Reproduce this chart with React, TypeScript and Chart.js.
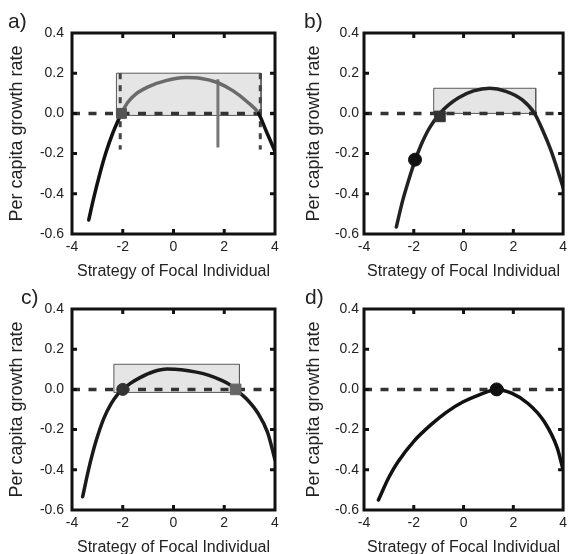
import React, { useEffect, useRef } from "react";
import { Chart, registerables } from "chart.js";

Chart.register(...registerables);

const FONT = '"Liberation Sans", Arial, Helvetica, sans-serif';
const TEXT = "#222";

// ---- shared axes ----
const xTickValues = [-4, -2, 0, 2, 4];
const yTickValues = [0.4, 0.2, 0.0, -0.2, -0.4, -0.6];
const xTitle = "Strategy of Focal Individual";
const yTitle = "Per capita growth rate";
const zeroLineX = [-4, 4];
const zeroLineY = [0, 0];

// ---- panel a ----
const aCurveX = [-3.34, -3.15, -2.9, -2.65, -2.4, -2.2, -2.05, -1.8, -1.5, -1.0, -0.3, 0.5, 1.1, 1.7, 2.35, 2.9, 3.35, 3.66, 3.9, 4.0];
const aCurveY = [-0.53, -0.424, -0.299, -0.19, -0.1, -0.04, 0.0, 0.055, 0.095, 0.132, 0.163, 0.178, 0.174, 0.155, 0.112, 0.058, 0.0, -0.09, -0.16, -0.19];
const aBoxX = [-2.25, 3.45];
const aBoxY = [-0.01, 0.2];
const aDashLeftX = [-2.1, -2.1];
const aDashRightX = [3.42, 3.42];
const aDashY = [0.2, -0.18];
const aBarX = [1.75, 1.75];
const aBarY = [0.17, -0.17];
const aSquare = { x: -2.05, y: 0.0 };

// ---- panel b ----
const bCurveX = [-2.7, -2.46, -2.2, -1.95, -1.7, -1.45, -1.2, -0.95, -0.6, -0.2, 0.4, 1.05, 1.7, 2.35, 2.85, 3.2, 3.5, 3.8, 4.0];
const bCurveY = [-0.565, -0.44, -0.33, -0.235, -0.155, -0.09, -0.04, 0.0, 0.042, 0.078, 0.112, 0.125, 0.11, 0.068, 0.0, -0.09, -0.18, -0.29, -0.37];
const bBoxX = [-1.2, 2.9];
const bBoxY = [0.0, 0.125];
const bCircle = { x: -1.95, y: -0.23 };
const bSquare = { x: -0.95, y: -0.015 };

// ---- panel c ----
const cCurveX = [-3.58, -3.35, -3.05, -2.75, -2.45, -2.2, -2.0, -1.7, -1.3, -0.8, -0.25, 0.3, 0.9, 1.4, 1.9, 2.2, 2.45, 2.9, 3.31, 3.71, 4.0];
const cCurveY = [-0.534, -0.4, -0.256, -0.145, -0.07, -0.025, 0.0, 0.03, 0.06, 0.088, 0.101, 0.098, 0.086, 0.07, 0.045, 0.025, 0.0, -0.05, -0.115, -0.215, -0.35];
const cBoxX = [-2.35, 2.6];
const cBoxY = [-0.015, 0.125];
const cCircle = { x: -2.0, y: 0.0 };
const cSquare = { x: 2.45, y: 0.0 };

// ---- panel d ----
const dCurveX = [-3.42, -3.0, -2.64, -1.99, -1.33, -0.68, -0.03, 0.63, 1.33, 1.93, 2.59, 3.24, 3.76, 4.0];
const dCurveY = [-0.55, -0.437, -0.361, -0.257, -0.178, -0.113, -0.063, -0.027, 0.0, -0.019, -0.07, -0.16, -0.29, -0.4];
const dCircle = { x: 1.33, y: 0.0 };

type Pt = { x: number; y: number };
const pts = (xs: number[], ys: number[]): Pt[] => xs.map((x, i) => ({ x, y: ys[i] }));

const line = (data: Pt[], color: string, width: number, extra: any = {}) => ({
  data,
  showLine: true,
  borderColor: color,
  borderWidth: width,
  pointRadius: 0,
  fill: false,
  tension: 0,
  ...extra,
});

const boxFill = (bx: number[], by: number[]) =>
  line(pts(bx, [by[1], by[1]]), "rgba(0,0,0,0)", 0, {
    fill: { value: by[0] },
    backgroundColor: "#e5e5e5",
  });
const boxOutline = (bx: number[], by: number[]) =>
  line(pts([bx[0], bx[0], bx[1], bx[1], bx[0]], [by[0], by[1], by[1], by[0], by[0]]), "#5a5a5a", 1);
const zeroLine = () => line(pts(zeroLineX, zeroLineY), "#333", 3.5, { borderDash: [8, 8.5] });
const curve = (xs: number[], ys: number[], color: string, extra: any = {}) =>
  line(pts(xs, ys), color, 3.5, { cubicInterpolationMode: "monotone", borderCapStyle: "round", borderJoinStyle: "round", ...extra });
const marker = (p: Pt, style: string, color: string, r: number) => ({
  data: [p],
  showLine: false,
  pointStyle: style,
  pointRadius: r,
  pointBackgroundColor: color,
  pointBorderColor: color,
  pointBorderWidth: 1,
});

const withOrder = (list: any[]) => list.map((d, i) => ({ ...d, order: list.length - i }));

type PanelCfg = {
  label: string;
  labelX: number;
  left: number;
  top: number;
  axisWidth: number;
  padRight: number;
  yTitlePad: number;
  yTickPad: number;
  datasets: any[];
};

const panels: PanelCfg[] = [
  {
    label: "a)",
    labelX: 8,
    left: 0,
    top: 0,
    axisWidth: 72,
    padRight: 11,
    yTitlePad: 6,
    yTickPad: 8,
    datasets: withOrder([
      boxFill(aBoxX, aBoxY),
      boxOutline(aBoxX, aBoxY),
      zeroLine(),
      line(pts(aDashLeftX, aDashY), "#444", 3, { borderDash: [6, 6] }),
      line(pts(aDashRightX, aDashY), "#444", 3, { borderDash: [6, 6] }),
      line(pts(aBarX, aBarY), "#777", 3),
      curve(aCurveX, aCurveY, "#111", {
        segment: {
          borderColor: (ctx: any) =>
            ctx.p0.parsed.x >= aCurveX[6] - 1e-6 && ctx.p1.parsed.x <= aCurveX[16] + 1e-6 ? "#6a6a6a" : "#111",
        },
      }),
      marker(aSquare, "rect", "#555", 7),
    ]),
  },
  {
    label: "b)",
    labelX: 18,
    left: 286,
    top: 0,
    axisWidth: 78,
    padRight: 4,
    yTitlePad: 17,
    yTickPad: 5,
    datasets: withOrder([
      boxFill(bBoxX, bBoxY),
      boxOutline(bBoxX, bBoxY),
      zeroLine(),
      curve(bCurveX, bCurveY, "#222"),
      marker(bSquare, "rect", "#333", 7.5),
      marker(bCircle, "circle", "#111", 6.5),
    ]),
  },
  {
    label: "c)",
    labelX: 21,
    left: 0,
    top: 276,
    axisWidth: 72,
    padRight: 11,
    yTitlePad: 6,
    yTickPad: 8,
    datasets: withOrder([
      boxFill(cBoxX, cBoxY),
      boxOutline(cBoxX, cBoxY),
      zeroLine(),
      curve(cCurveX, cCurveY, "#1a1a1a"),
      marker(cCircle, "circle", "#333", 6),
      marker(cSquare, "rect", "#666", 7.5),
    ]),
  },
  {
    label: "d)",
    labelX: 19,
    left: 286,
    top: 276,
    axisWidth: 78,
    padRight: 4,
    yTitlePad: 17,
    yTickPad: 5,
    datasets: withOrder([zeroLine(), curve(dCurveX, dCurveY, "#111"), marker(dCircle, "circle", "#111", 6.5)]),
  },
];

const CANVAS_W = 286;
const CANVAS_H = 290;

const framePlugin = {
  id: "frame",
  afterDraw(chart: any) {
    const { ctx, chartArea: a, scales } = chart;
    ctx.save();
    ctx.strokeStyle = "#111";
    ctx.lineWidth = 3;
    ctx.strokeRect(a.left, a.top, a.right - a.left, a.bottom - a.top);
    ctx.beginPath();
    xTickValues.slice(1, -1).forEach((v) => {
      const px = scales.x.getPixelForValue(v);
      ctx.moveTo(px, a.top);
      ctx.lineTo(px, a.top + 5);
      ctx.moveTo(px, a.bottom);
      ctx.lineTo(px, a.bottom - 5);
    });
    yTickValues.slice(1, -1).forEach((v) => {
      const py = scales.y.getPixelForValue(v);
      ctx.moveTo(a.left, py);
      ctx.lineTo(a.left + 5, py);
      ctx.moveTo(a.right, py);
      ctx.lineTo(a.right - 5, py);
    });
    ctx.stroke();
    ctx.restore();
  },
};

const labelPlugin = (text: string, x: number) => ({
  id: "panelLabel",
  afterDraw(chart: any) {
    const ctx = chart.ctx;
    ctx.save();
    ctx.font = `21px ${FONT}`;
    ctx.fillStyle = TEXT;
    ctx.textBaseline = "alphabetic";
    ctx.textAlign = "left";
    ctx.fillText(text, x, 28);
    ctx.restore();
  },
});

function Panel({ cfg }: { cfg: PanelCfg }) {
  const ref = useRef<HTMLCanvasElement>(null);
  useEffect(() => {
    const chart = new Chart(ref.current as HTMLCanvasElement, {
      type: "scatter",
      data: { datasets: cfg.datasets },
      options: {
        animation: false,
        responsive: false,
        events: [],
        layout: { padding: { left: 0, top: 33, right: cfg.padRight, bottom: 0 } },
        plugins: { legend: { display: false }, tooltip: { enabled: false } },
        scales: {
          x: {
            type: "linear",
            min: -4,
            max: 4,
            afterBuildTicks: (s: any) => {
              s.ticks = xTickValues.map((v) => ({ value: v }));
            },
            afterFit: (s: any) => {
              s.height = CANVAS_H - 234;
            },
            grid: { display: false, drawTicks: false },
            border: { display: false },
            ticks: {
              autoSkip: false,
              maxRotation: 0,
              padding: 5,
              color: TEXT,
              font: { family: FONT, size: 14 },
              callback: (v: any) => String(v),
            },
            title: {
              display: true,
              text: xTitle,
              color: TEXT,
              font: { family: FONT, size: 16 },
              padding: { top: 0, bottom: 9 },
            },
          },
          y: {
            type: "linear",
            min: -0.6,
            max: 0.4,
            afterBuildTicks: (s: any) => {
              s.ticks = yTickValues.map((v) => ({ value: v }));
            },
            afterFit: (s: any) => {
              s.width = cfg.axisWidth;
            },
            grid: { display: false, drawTicks: false },
            border: { display: false },
            ticks: {
              autoSkip: false,
              padding: cfg.yTickPad,
              color: TEXT,
              font: { family: FONT, size: 14 },
              callback: (v: any) => Number(v).toFixed(1),
            },
            title: {
              display: true,
              text: yTitle,
              color: TEXT,
              font: { family: FONT, size: 18 },
              padding: { top: cfg.yTitlePad, bottom: 0 },
            },
          },
        },
      } as any,
      plugins: [framePlugin, labelPlugin(cfg.label, cfg.labelX)],
    });
    return () => chart.destroy();
  }, []);
  return (
    <canvas
      ref={ref}
      width={CANVAS_W}
      height={CANVAS_H}
      style={{ position: "absolute", left: cfg.left, top: cfg.top, width: CANVAS_W, height: CANVAS_H }}
    />
  );
}

export default function App() {
  return (
    <div
      style={{
        position: "fixed",
        left: 0,
        top: 0,
        width: 572,
        height: 554,
        overflow: "hidden",
        background: "#fff",
      }}
    >
      {panels.map((p) => (
        <Panel key={p.label} cfg={p} />
      ))}
    </div>
  );
}
